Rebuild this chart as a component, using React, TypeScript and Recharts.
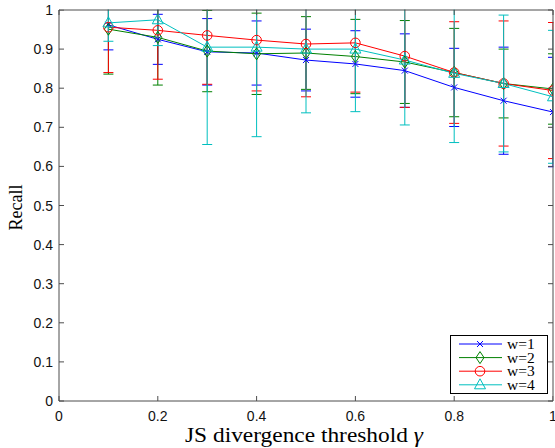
import React from 'react';
import { LineChart, Line, XAxis, YAxis, ErrorBar, Legend, Label } from 'recharts';

// threshold values on the x axis
const gammas = [0.1, 0.2, 0.3, 0.4, 0.5, 0.6, 0.7, 0.8, 0.9, 1.0];

// mean recall per window size
const recallW1 = [0.962, 0.925, 0.893, 0.89, 0.872, 0.862, 0.845, 0.802, 0.768, 0.739];
const recallW2 = [0.951, 0.93, 0.895, 0.888, 0.89, 0.881, 0.867, 0.84, 0.812, 0.798];
const recallW3 = [0.956, 0.948, 0.935, 0.923, 0.913, 0.916, 0.882, 0.84, 0.812, 0.794];
const recallW4 = [0.967, 0.975, 0.905, 0.905, 0.9, 0.9, 0.872, 0.838, 0.812, 0.778];

// error bar half-lengths
const errW1 = [0.064, 0.064, 0.085, 0.082, 0.079, 0.085, 0.094, 0.1, 0.137, 0.14];
const errW2 = [0.115, 0.122, 0.104, 0.104, 0.093, 0.095, 0.106, 0.113, 0.088, 0.09];
const errW3 = [0.116, 0.125, 0.125, 0.13, 0.135, 0.126, 0.131, 0.13, 0.16, 0.174];
const errW4 = [0.047, 0.066, 0.249, 0.229, 0.163, 0.16, 0.166, 0.177, 0.175, 0.17];

const seriesNames = ['w=1', 'w=2', 'w=3', 'w=4'];
const xTicks = [0, 0.2, 0.4, 0.6, 0.8, 1];
const yTicks = [0, 0.1, 0.2, 0.3, 0.4, 0.5, 0.6, 0.7, 0.8, 0.9, 1];

const data = gammas.map((g, i) => ({
  g,
  w1: recallW1[i], e1: errW1[i],
  w2: recallW2[i], e2: errW2[i],
  w3: recallW3[i], e3: errW3[i],
  w4: recallW4[i], e4: errW4[i],
}));

const COLORS = ['#0000ff', '#008000', '#ff0000', '#00bfbf'];
const AXIS = '#4d4d4d';
const SANS = '"Liberation Sans", Arial, sans-serif';
const SERIF = '"Liberation Serif", "Times New Roman", serif';

const W = 555, H = 448;
const PLOT_TOP = 10, PLOT_LEFT = 59, PLOT_RIGHT = 553, PLOT_BOTTOM = 401;

const markerShape = (kind: number, cx: number, cy: number, color: string, key?: string) => {
  if (kind === 0) {
    const s = 3;
    return <path key={key} d={`M${cx - s},${cy - s}L${cx + s},${cy + s}M${cx - s},${cy + s}L${cx + s},${cy - s}`} stroke={color} strokeWidth={1} fill="none" />;
  }
  if (kind === 1) {
    return <path key={key} d={`M${cx},${cy - 6}L${cx + 4},${cy}L${cx},${cy + 6}L${cx - 4},${cy}Z`} stroke={color} strokeWidth={1} fill="none" />;
  }
  if (kind === 2) {
    return <circle key={key} cx={cx} cy={cy} r={4.8} stroke={color} strokeWidth={1} fill="none" />;
  }
  return <path key={key} d={`M${cx},${cy - 6}L${cx + 5.5},${cy + 4}L${cx - 5.5},${cy + 4}Z`} stroke={color} strokeWidth={1} fill="none" />;
};

const makeDot = (kind: number) => (props: any) => {
  const { cx, cy, index } = props;
  if (cx == null || cy == null) return <g key={`d-${kind}-${index}`} />;
  return markerShape(kind, cx, cy, COLORS[kind], `d-${kind}-${index}`);
};

const BottomTick = ({ x, y, payload }: any) => (
  <g>
    <line x1={x} y1={y} x2={x} y2={y - 5} stroke={AXIS} />
    <text x={x} y={y + 20} textAnchor="middle" fontFamily={SANS} fontSize={14} fill="#111">{String(payload.value)}</text>
  </g>
);
const LeftTick = ({ x, y, payload }: any) => (
  <g>
    <line x1={x} y1={y} x2={x + 5} y2={y} stroke={AXIS} />
    <text x={x - 6} y={y + 5} textAnchor="end" fontFamily={SANS} fontSize={14} fill="#111">{String(payload.value)}</text>
  </g>
);

const XLabel = ({ viewBox }: any) => {
  const cx = viewBox ? viewBox.x + viewBox.width / 2 : (PLOT_LEFT + PLOT_RIGHT) / 2;
  return (
    <text x={cx - 2} y={442} textAnchor="middle" fontFamily={SERIF} fontSize={20} fill="#000" textLength={238} lengthAdjust="spacingAndGlyphs">
      JS divergence threshold <tspan fontStyle="italic">γ</tspan>
    </text>
  );
};

const YLabel = () => {
  const cy = (PLOT_TOP + PLOT_BOTTOM) / 2 + 2;
  return (
    <text x={22} y={cy} transform={`rotate(-90 22 ${cy})`} textAnchor="middle" fontFamily={SERIF} fontSize={18} fill="#000">
      Recall
    </text>
  );
};

const LegendBox = () => (
  <svg width={98} height={59}>
    <rect x={0.5} y={0.5} width={97} height={58} fill="#fff" stroke="#000" />
    {seriesNames.map((name, i) => {
      const y = 9 + i * 13.6;
      return (
        <g key={name}>
          <line x1={9} y1={y} x2={52} y2={y} stroke={COLORS[i]} />
          {markerShape(i, 30, y, COLORS[i])}
          <text x={57} y={y + 5} fontFamily={SERIF} fontSize={15.5} fill="#000">{name}</text>
        </g>
      );
    })}
  </svg>
);

// box frame on top/right with inward ticks, and masks for anything drawn past the axes
const Frame = () => (
  <svg width={W} height={H} style={{ position: 'absolute', left: 0, top: 0, pointerEvents: 'none' }}>
    <rect x={PLOT_LEFT + 0.5} y={0} width={W - PLOT_LEFT} height={PLOT_TOP - 0.5} fill="#fff" />
    <rect x={PLOT_RIGHT + 0.5} y={0} width={W - PLOT_RIGHT} height={PLOT_BOTTOM + 0.5} fill="#fff" />
    <line x1={PLOT_LEFT} y1={PLOT_TOP} x2={PLOT_RIGHT} y2={PLOT_TOP} stroke={AXIS} />
    <line x1={PLOT_RIGHT} y1={PLOT_TOP} x2={PLOT_RIGHT} y2={PLOT_BOTTOM} stroke={AXIS} />
    {xTicks.map((t) => {
      const x = PLOT_LEFT + t * (PLOT_RIGHT - PLOT_LEFT);
      return <line key={`tx${t}`} x1={x} y1={PLOT_TOP} x2={x} y2={PLOT_TOP + 5} stroke={AXIS} />;
    })}
    {yTicks.map((t) => {
      const y = PLOT_BOTTOM - t * (PLOT_BOTTOM - PLOT_TOP);
      return <line key={`ty${t}`} x1={PLOT_RIGHT} y1={y} x2={PLOT_RIGHT - 5} y2={y} stroke={AXIS} />;
    })}
  </svg>
);

export default function App() {
  return (
    <div style={{ position: 'absolute', left: 0, top: 0, width: W, height: H, background: '#fff' }}>
      <LineChart width={W} height={H} data={data} margin={{ top: PLOT_TOP, right: W - PLOT_RIGHT, bottom: 0, left: 0 }}>
        <XAxis
          dataKey="g" type="number" domain={[0, 1]} ticks={xTicks} interval={0} allowDataOverflow
          height={H - PLOT_BOTTOM} tickSize={0} tickMargin={0} stroke={AXIS} tick={<BottomTick />}
        >
          <Label content={<XLabel />} />
        </XAxis>
        <YAxis
          type="number" domain={[0, 1]} ticks={yTicks} interval={0} allowDataOverflow
          width={PLOT_LEFT} tickSize={0} tickMargin={0} stroke={AXIS} tick={<LeftTick />}
        >
          <Label content={<YLabel />} />
        </YAxis>
        {[1, 2, 3, 4].map((n, i) => (
          <Line
            key={n}
            dataKey={`w${n}`}
            name={seriesNames[i]}
            stroke={COLORS[i]}
            strokeWidth={1}
            dot={makeDot(i)}
            activeDot={false}
            isAnimationActive={false}
          >
            <ErrorBar dataKey={`e${n}`} direction="y" width={5} stroke={COLORS[i]} strokeWidth={1} isAnimationActive={false} />
          </Line>
        ))}
        <Legend
          layout="vertical" align="center" verticalAlign="middle"
          wrapperStyle={{ position: 'absolute', left: 450, top: 335, width: 98, height: 59 }}
          content={<LegendBox />}
        />
      </LineChart>
      <Frame />
    </div>
  );
}
